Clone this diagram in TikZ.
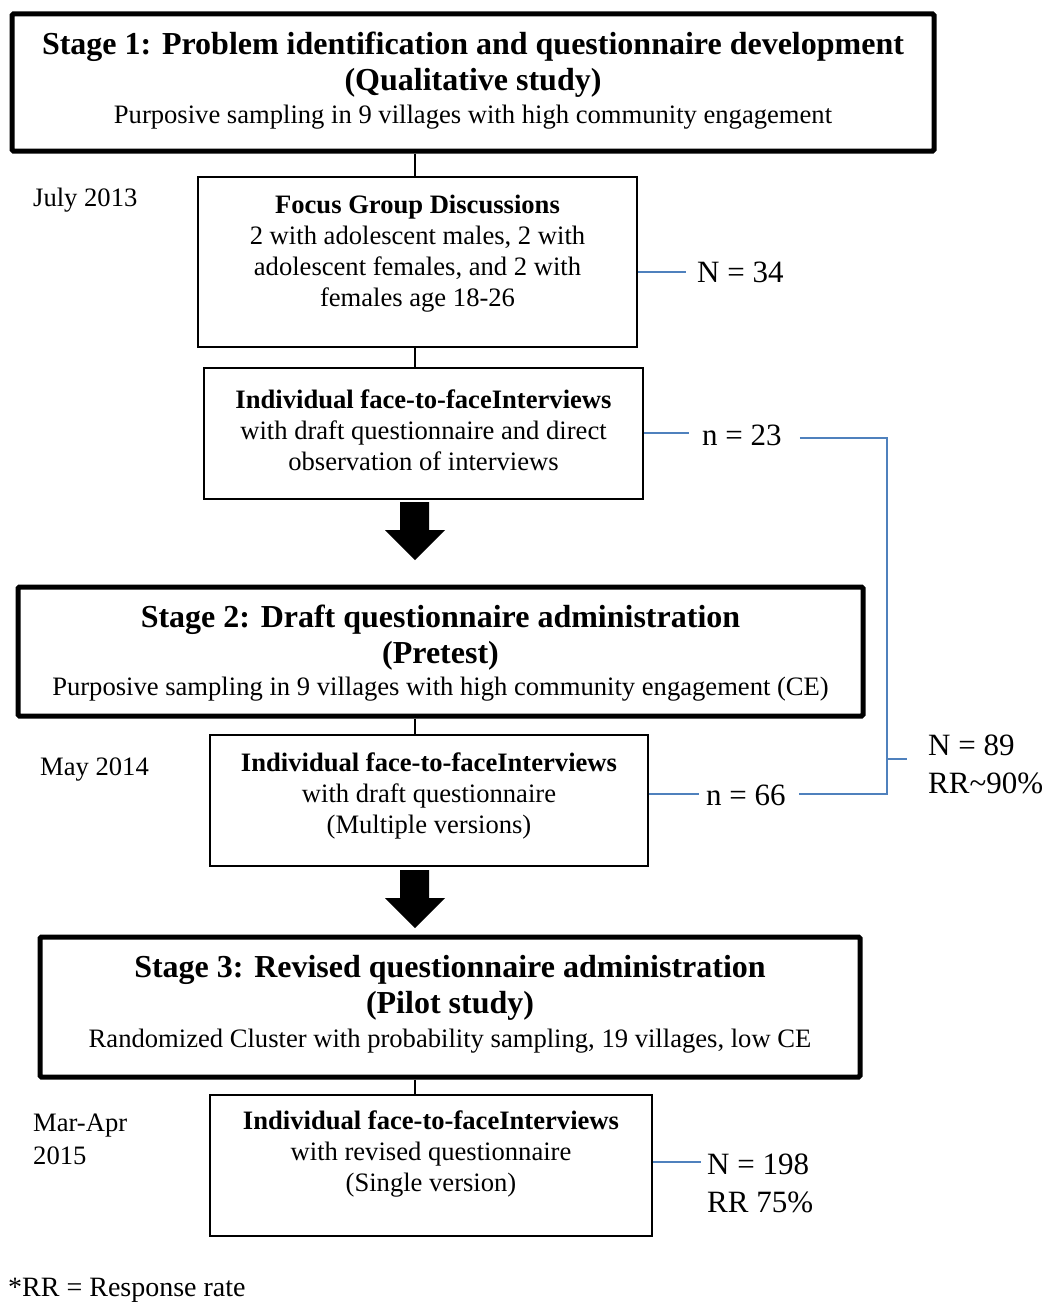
\documentclass[tikz,border=0pt]{standalone}
\usepackage{fontspec}
\setmainfont{Liberation Serif}
\definecolor{lineblue}{RGB}{79,129,189}
\begin{document}
\begin{tikzpicture}[x=1pt,y=-1pt,
  stagebox/.style={draw, line width=5pt, rounded corners=1.5pt, inner sep=0pt},
  stepbox/.style={draw, line width=1.8pt, inner sep=0pt},
  ttl/.style={font=\fontsize{32}{36}\selectfont\bfseries, anchor=base, inner sep=0pt},
  sub/.style={font=\fontsize{26.6}{31}\selectfont, anchor=base, inner sep=0pt},
  boxtext/.style={font=\fontsize{26.6}{31}\selectfont, align=center, inner sep=0pt},
  lbl/.style={font=\fontsize{31}{37}\selectfont, anchor=west, inner sep=0pt},
  lbltwo/.style={font=\fontsize{31}{38}\selectfont, anchor=base west, inner sep=0pt, align=left},
  datelbl/.style={font=\fontsize{26.6}{33}\selectfont, anchor=west, inner sep=0pt, align=left},
  link/.style={line width=1.6pt},
  bluelink/.style={line width=2pt, draw=lineblue}
]
\useasboundingbox (0,0) rectangle (1047,1311);

% stage boxes
\node[stagebox, minimum width=922pt, minimum height=137pt] (s1) at (473,82.5) {};
\node[stagebox, minimum width=845pt, minimum height=129pt] (s2) at (440.5,651.5) {};
\node[stagebox, minimum width=820pt, minimum height=140pt] (s3) at (450,1007) {};

\node[ttl] (s1a) at (473,55) {Stage 1: Problem identification and questionnaire development};
\node[ttl] (s1b) at (473,91) {(Qualitative study)};
\node[sub] (s1c) at (473,124) {Purposive sampling in 9 villages with high community engagement};

\node[ttl] (s2a) at (440.5,627) {Stage 2: Draft questionnaire administration};
\node[ttl] (s2b) at (440.5,663) {(Pretest)};
\node[sub] (s2c) at (440.5,695) {Purposive sampling in 9 villages with high community engagement (CE)};

\node[ttl] (s3a) at (450,977) {Stage 3: Revised questionnaire administration};
\node[ttl] (s3b) at (450,1013) {(Pilot study)};
\node[sub] (s3c) at (450,1047) {Randomized Cluster with probability sampling, 19 villages, low CE};

% step boxes
\node[stepbox, minimum width=439pt, minimum height=170pt] (fgd) at (417.5,262) {};
\node[stepbox, minimum width=439pt, minimum height=131pt] (ifi1) at (423.5,433.5) {};
\node[stepbox, minimum width=438pt, minimum height=131pt] (ifi2) at (429,800.5) {};
\node[stepbox, minimum width=442pt, minimum height=141pt] (ifi3) at (431,1165.5) {};

\node[boxtext] (fgdt) at (417.5,254) {\textbf{Focus Group Discussions}\\2 with adolescent males, 2 with\\adolescent females, and 2 with\\females age 18-26};
\node[boxtext] (ifi1t) at (423.5,430) {\textbf{Individual face-to-faceInterviews}\\with draft questionnaire and direct\\observation of interviews};
\node[boxtext] (ifi2t) at (429,796) {\textbf{Individual face-to-faceInterviews}\\with draft questionnaire\\(Multiple versions)};
\node[boxtext] (ifi3t) at (431,1154) {\textbf{Individual face-to-faceInterviews}\\with revised questionnaire\\(Single version)};

% vertical connectors
\coordinate (tx) at (415,0);
\draw[link] (s1.south -| tx) -- (fgd.north -| tx);
\draw[link] (fgd.south -| tx) -- (ifi1.north -| tx);
\draw[link] (s2.south -| tx) -- (ifi2.north -| tx);
\draw[link] (s3.south -| tx) -- (ifi3.north -| tx);

% block arrows between stages
\coordinate (a1) at (415,502);
\coordinate (a2) at (415,870);
\fill[shift={(a1)}] (-15,0) -- (14,0) -- (14,28) -- (30,28) -- (0,58) -- (-30,28) -- (-15,28) -- cycle;
\fill[shift={(a2)}] (-15,0) -- (14,0) -- (14,28) -- (30,28) -- (0,58) -- (-30,28) -- (-15,28) -- cycle;

% dates
\node[datelbl] (d1) at (33,200) {July 2013};
\node[datelbl] (d2) at (40,770) {May 2014};
\node[datelbl] (d3) at (33,1139) {Mar-Apr\\2015};

% sample sizes
\node[lbl] (n34) at (697,272) {N = 34};
\draw[bluelink] (fgd.east |- n34) -- ([xshift=-11pt]n34.west);

\node[lbl] (n23) at (702,435) {n = 23};
\draw[bluelink] (ifi1.east |- 0,433) -- ([xshift=-13pt]n23.west |- 0,433);

\node[lbl] (n66) at (706,795) {n = 66};
\draw[bluelink] (ifi2.east |- 0,794) -- ([xshift=-7pt]n66.west |- 0,794);

\coordinate (b89) at (887,759);
\draw[bluelink] ([xshift=18pt]n23.east |- 0,438) -- (b89 |- 0,438) -- (b89 |- 0,794) -- ([xshift=13pt]n66.east |- 0,794);
\coordinate (t89) at (907,759);
\draw[bluelink] (b89) -- (t89);
% the base anchor of a two-line node sits on its last line
\node[lbltwo] (n89) at (928,793) {N = 89\\RR\textasciitilde 90\%};

\coordinate (t198) at (701,1162);
\draw[bluelink] (t198 -| ifi3.east) -- (t198);
\node[lbltwo] (n198) at (707,1212) {N = 198\\RR 75\%};

% footnote
\node[font=\fontsize{28}{33}\selectfont, anchor=west, inner sep=0pt] (foot) at (8,1290) {*RR = Response rate};
\end{tikzpicture}
\end{document}
